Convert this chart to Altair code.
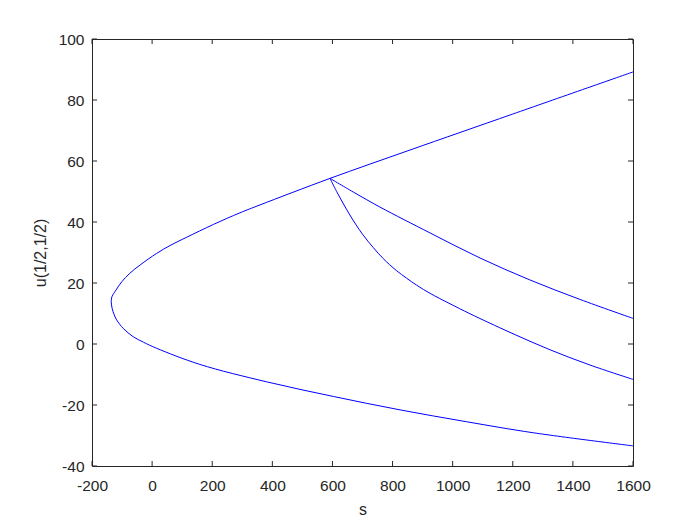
import altair as alt
import pandas as pd

# ---- data ----
main_s = [1600, 1268, 1047, 825, 603, 381, 159, 15, -29, -63, -96, -118, -127, -133, -136,
          -133.7, -120, -101, -74, -40, 15, 60, 115, 204, 292, 359, 592, 858, 1200, 1600]
main_u = [-33.4, -29.1, -25.5, -21.6, -17.2, -12.4, -6.7, -1.4, 0.6, 2.4, 5.1, 7.9, 9.8, 11.7, 13.9,
          15.5, 17.7, 20.4, 23.2, 25.9, 29.7, 32.3, 35.0, 39.2, 43.0, 45.6, 54.3, 63.6, 75.4, 89.2]

branchA_s = [592, 675, 758, 925, 1091, 1257, 1424, 1600]
branchA_u = [54.3, 49.5, 44.9, 36.4, 28.2, 21.0, 14.6, 8.4]

branchB_s = [592, 614, 658, 700, 736, 769, 814, 880, 925, 991, 1058, 1191, 1324, 1457, 1600]
branchB_u = [54.3, 50.0, 42.3, 36.0, 31.6, 28.0, 24.0, 19.3, 16.6, 13.2, 9.9, 3.8, -1.9, -6.9, -11.6]

x_ticks = [-200, 0, 200, 400, 600, 800, 1000, 1200, 1400, 1600]
y_ticks = [-40, -20, 0, 20, 40, 60, 80, 100]

rows = []
for name, ss, uu in [("main", main_s, main_u), ("A", branchA_s, branchA_u), ("B", branchB_s, branchB_u)]:
    for i, (s, u) in enumerate(zip(ss, uu)):
        rows.append({"branch": name, "order": i, "s": s, "u": u})
df = pd.DataFrame(rows)

W, H = 541, 427
FONT = "Liberation Sans"
AX = "#262626"

xscale = alt.Scale(domain=[-200, 1600], nice=False, zero=False)
yscale = alt.Scale(domain=[-40, 100], nice=False, zero=False)

xaxis = alt.Axis(values=x_ticks, ticks=False, domain=False, grid=False,
                 labelExpr="datum.value + ''",
                 labelFont=FONT, labelFontSize=15.5, labelColor=AX, labelPadding=12,
                 title="s", titleFont=FONT, titleFontSize=16, titleFontWeight="normal",
                 titleColor=AX, titlePadding=8, labelFlush=False)
yaxis = alt.Axis(values=y_ticks, ticks=False, domain=False, grid=False,
                 labelExpr="datum.value + ''",
                 labelFont=FONT, labelFontSize=15.5, labelColor=AX, labelPadding=8,
                 title="u(1/2,1/2)", titleFont=FONT, titleFontSize=16, titleFontWeight="normal",
                 titleColor=AX, titlePadding=10, labelFlush=False)

lines = alt.Chart(df).mark_line(color="#0000FF", strokeWidth=1, clip=True,
                                interpolate="catmull-rom").encode(
    x=alt.X("s:Q", scale=xscale, axis=xaxis),
    y=alt.Y("u:Q", scale=yscale, axis=yaxis),
    detail="branch:N",
    order="order:Q",
)

xt = pd.DataFrame({"t": x_ticks})
yt = pd.DataFrame({"t": y_ticks})

xtick_bottom = alt.Chart(xt).mark_rule(color=AX, strokeWidth=1).encode(
    x=alt.X("t:Q", scale=xscale), y=alt.value(H), y2=alt.value(H - 5))
xtick_top = alt.Chart(xt).mark_rule(color=AX, strokeWidth=1).encode(
    x=alt.X("t:Q", scale=xscale), y=alt.value(0), y2=alt.value(5))
ytick_left = alt.Chart(yt).mark_rule(color=AX, strokeWidth=1).encode(
    y=alt.Y("t:Q", scale=yscale), x=alt.value(0), x2=alt.value(5))
ytick_right = alt.Chart(yt).mark_rule(color=AX, strokeWidth=1).encode(
    y=alt.Y("t:Q", scale=yscale), x=alt.value(W), x2=alt.value(W - 5))

chart = alt.layer(lines, xtick_bottom, xtick_top, ytick_left, ytick_right).properties(
    width=W, height=H,
    autosize=alt.AutoSizeParams(type="none"),
    padding={"left": 84, "top": 31, "right": 50, "bottom": 60},
    background="white",
).configure_view(stroke=AX, strokeWidth=1)

chart.save("out.html", embed_options={"renderer": "svg", "actions": False})
